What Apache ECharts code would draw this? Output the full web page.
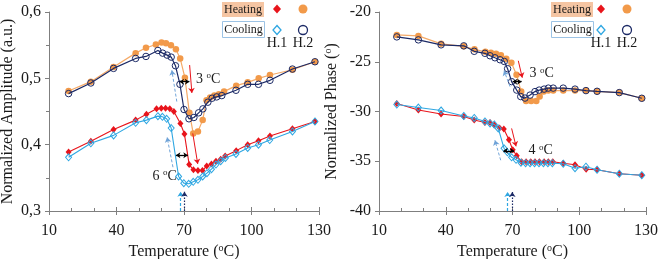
<!DOCTYPE html>
<html><head><meta charset="utf-8">
<script src="https://cdn.jsdelivr.net/npm/echarts@6/dist/echarts.min.js"></script>
<style>html,body{margin:0;padding:0;background:#fff}#c{width:658px;height:259px}</style>
</head><body><div id="c"></div>
<script>
// ---- Data (temperature in °C) ----
const xTicks = [10, 40, 70, 100, 130];
const ampTicks = [0.3, 0.4, 0.5, 0.6];
const phaseTicks = [-40, -35, -30, -25, -20];

// Amplitude – Heating H.2 (orange filled circles)
const ampHeatH2T = [18.7, 28.6, 38.7, 48.5, 53.1, 57.5, 60.0, 62.0, 64.2, 66.4, 68.3, 70.4, 72.4, 74.1, 76.2, 78.3, 80.0, 81.6, 83.5, 85.5, 87.8, 93.2, 98.3, 103.2, 108.2, 118.2, 128.2];
const ampHeatH2  = [0.481, 0.495, 0.517, 0.538, 0.546, 0.551, 0.554, 0.553, 0.550, 0.544, 0.530, 0.501, 0.448, 0.417, 0.420, 0.437, 0.467, 0.471, 0.474, 0.476, 0.480, 0.489, 0.494, 0.500, 0.505, 0.513, 0.525];
// Amplitude – Cooling H.2 (navy open circles)
const ampCoolH2T = [18.7, 28.6, 38.7, 48.5, 53.1, 58.4, 60.5, 62.5, 64.3, 66.2, 68.2, 70.0, 72.2, 74.4, 76.5, 78.4, 80.6, 82.5, 84.5, 86.8, 93.1, 98.3, 103.1, 108.2, 118.2, 128.2];
const ampCoolH2  = [0.477, 0.493, 0.515, 0.530, 0.533, 0.542, 0.538, 0.535, 0.532, 0.519, 0.491, 0.453, 0.439, 0.441, 0.448, 0.454, 0.464, 0.470, 0.472, 0.474, 0.482, 0.491, 0.491, 0.497, 0.514, 0.525];
// Amplitude – Heating H.1 (red diamonds)
const ampHeatH1T = [18.7, 28.6, 38.7, 48.5, 53.3, 57.8, 59.9, 61.8, 63.7, 65.5, 68.4, 70.2, 72.3, 74.2, 76.2, 78.2, 80.1, 82.2, 84.2, 86.3, 88.3, 93.2, 98.3, 103.1, 108.2, 118.2, 128.2];
const ampHeatH1  = [0.389, 0.405, 0.423, 0.437, 0.446, 0.454, 0.455, 0.455, 0.454, 0.450, 0.432, 0.416, 0.370, 0.362, 0.361, 0.361, 0.368, 0.371, 0.375, 0.378, 0.383, 0.391, 0.400, 0.406, 0.413, 0.424, 0.435];
// Amplitude – Cooling H.1 (cyan open diamonds)
const ampCoolH1T = [18.7, 28.6, 38.7, 48.5, 53.3, 58.4, 60.4, 62.3, 64.3, 67.6, 69.9, 72.1, 74.1, 76.2, 78.3, 80.2, 82.2, 84.2, 86.3, 88.4, 93.1, 98.3, 103.1, 108.1, 118.2, 128.2];
const ampCoolH1  = [0.381, 0.402, 0.414, 0.433, 0.437, 0.443, 0.442, 0.439, 0.425, 0.352, 0.342, 0.341, 0.344, 0.347, 0.352, 0.357, 0.363, 0.370, 0.375, 0.380, 0.386, 0.395, 0.400, 0.407, 0.420, 0.435];

// Phase – Heating H.2
const phHeatH2T = [18, 27.7, 37.9, 48.1, 52.9, 57.8, 60.3, 62.6, 64.8, 67.2, 69.5, 71.8, 73.9, 76.1, 78.4, 80.7, 82.2, 84.0, 86.1, 88.3, 92.8, 98.1, 103.1, 108.1, 118.0, 128.1];
const phHeatH2  = [-22.3, -22.4, -23.2, -23.45, -23.75, -24.0, -24.1, -24.2, -24.35, -24.7, -25.1, -26.3, -28.0, -28.95, -28.95, -28.95, -28.5, -28.0, -27.9, -27.9, -27.9, -27.9, -27.9, -27.97, -28.1, -28.67];
// Phase – Cooling H.2
const phCoolH2T = [18, 27.7, 37.9, 48.1, 52.8, 57.6, 59.9, 62.1, 64.4, 66.3, 67.8, 69.6, 71.9, 73.7, 75.6, 77.9, 80.1, 82.0, 84.2, 86.1, 88.3, 92.8, 98.1, 103.0, 108.0, 118.0, 128.1];
const phCoolH2  = [-22.5, -22.8, -23.3, -23.4, -23.95, -24.15, -24.4, -24.6, -24.8, -24.97, -25.7, -27.0, -27.85, -28.5, -28.65, -28.35, -28.0, -27.85, -27.75, -27.65, -27.65, -27.65, -27.75, -27.9, -27.97, -28.1, -28.67];
// Phase – Heating H.1
const phHeatH1T = [18, 27.7, 37.9, 48.1, 52.8, 57.6, 59.9, 61.8, 64.2, 66.1, 68.4, 70.1, 71.9, 74.1, 76.1, 78.2, 80.1, 82.1, 84.2, 86.1, 88.1, 92.8, 98.1, 103.1, 108.0, 118.0, 128.1];
const phHeatH1  = [-29.2, -29.85, -30.25, -30.5, -30.85, -31.1, -31.1, -31.35, -31.65, -31.75, -32.85, -33.85, -34.45, -35.05, -35.05, -35.05, -35.05, -35.05, -35.05, -35.05, -35.05, -35.2, -35.35, -35.8, -35.85, -36.25, -36.4];
// Phase – Cooling H.1
const phCoolH1T = [18, 27.7, 37.9, 48.1, 52.8, 57.6, 59.9, 61.8, 63.6, 66.2, 67.7, 69.6, 71.6, 73.8, 75.9, 77.9, 79.9, 81.9, 83.9, 85.9, 87.9, 92.8, 98.1, 103.0, 108.0, 118.0, 128.1];
const phCoolH1  = [-29.3, -29.6, -29.9, -30.45, -30.65, -31.0, -31.2, -31.3, -31.7, -33.7, -34.1, -34.6, -34.85, -35.15, -35.2, -35.2, -35.2, -35.2, -35.2, -35.2, -35.2, -35.25, -35.7, -35.55, -35.85, -36.25, -36.4];

// Annotation positions (data coordinates)
const ampArrows = {
  redUp:  [[72.5, 0.520], [73.5, 0.478]],
  blueUp: [[66.8, 0.465], [64.6, 0.512]],
  dblUp:  [[68.0, 0.495], [72.4, 0.495]],
  redLo:  [[73.9, 0.417], [76.1, 0.371]],
  blueLo: [[65.1, 0.366], [62.5, 0.411]],
  dblLo:  [[66.4, 0.384], [71.7, 0.384]],
  cyanV:  [[68.5, 0.300], [68.5, 0.329]],
  navyV:  [[70.2, 0.300], [70.2, 0.329]]
};
const ampTexts = [{t: '3', at: [75.3, 0.499], pos: 'right'}, {t: '6', at: [66.8, 0.353], pos: 'left'}];
const phArrows = {
  redUp:  [[72.6, -24.9], [74.4, -26.6]],
  blueUp: [[68.9, -27.5], [66.2, -25.9]],
  dblUp:  [[70.1, -27.0], [74.1, -27.0]],
  redLo:  [[69.6, -31.7], [71.6, -33.5]],
  blueLo: [[64.7, -34.9], [62.1, -32.9]],
  dblLo:  [[65.9, -33.95], [70.8, -33.95]],
  cyanV:  [[67.8, -40], [67.8, -38.1]],
  navyV:  [[69.9, -40], [69.9, -38.1]]
};
const phTexts = [{t: '3', at: [77.6, -26.2], pos: 'right'}, {t: '4', at: [77.2, -33.95], pos: 'right'}];

// ---- Styles ----
const FONT = 'Liberation Serif';
const C = {orange: '#F29A4A', orangeLine: '#F5AA68', navy: '#1C2A66', red: '#E8141B', cyan: '#2FA7E2', dash: '#6FA3D8', axis: '#7f7f7f', text: '#1a1a1a', peach: '#F5C5A3', coolBorder: '#9CC3E5'};
const zip = (t, v) => t.map((x, i) => [x, v[i]]);

function line(name, idx, t, v, kind, z) {
  const s = {name, type: 'line', xAxisIndex: idx, yAxisIndex: idx, data: zip(t, v), z,
    animation: false, silent: true, emphasis: {disabled: true}};
  if (kind === 'orange') Object.assign(s, {symbol: 'circle', symbolSize: 6.5,
    itemStyle: {color: C.orange}, lineStyle: {color: C.orangeLine, width: 1.2}});
  if (kind === 'navy') Object.assign(s, {symbol: 'circle', symbolSize: 6.5,
    itemStyle: {color: 'rgba(255,255,255,0)', borderColor: C.navy, borderWidth: 1}, lineStyle: {color: C.navy, width: 1.2}});
  if (kind === 'red') Object.assign(s, {symbol: 'diamond', symbolSize: [6, 7],
    itemStyle: {color: C.red}, lineStyle: {color: C.red, width: 1.1}});
  if (kind === 'cyan') Object.assign(s, {symbol: 'diamond', symbolSize: [6, 7],
    itemStyle: {color: 'rgba(255,255,255,0)', borderColor: C.cyan, borderWidth: 1}, lineStyle: {color: C.cyan, width: 1.1}});
  return s;
}

function arrowsSeries(idx, A, T) {
  const seg = (p, style, s0, s1, size) => [
    {coord: p[0], symbol: s0, symbolSize: size, lineStyle: style},
    {coord: p[1], symbol: s1, symbolSize: size}
  ];
  return {
    type: 'line', xAxisIndex: idx, yAxisIndex: idx, data: [], z: 10, silent: true, animation: false,
    markLine: {
      silent: true, animation: false, label: {show: false}, emphasis: {disabled: true},
      data: [
        seg(A.redUp, {color: C.red, width: 1, type: 'solid'}, 'none', 'arrow', 5),
        seg(A.redLo, {color: C.red, width: 1, type: 'solid'}, 'none', 'arrow', 5),
        seg(A.blueUp, {color: C.dash, width: 1, type: [3, 2]}, 'none', 'arrow', 5),
        seg(A.blueLo, {color: C.dash, width: 1, type: [3, 2]}, 'none', 'arrow', 5),
        seg(A.dblUp, {color: '#000', width: 1.3, type: 'solid'}, 'arrow', 'arrow', 4.5),
        seg(A.dblLo, {color: '#000', width: 1.3, type: 'solid'}, 'arrow', 'arrow', 4.5),
        seg(A.cyanV, {color: C.cyan, width: 1.2, type: [3, 2]}, 'none', 'arrow', 5),
        seg(A.navyV, {color: C.navy, width: 1.2, type: [1.5, 1.5]}, 'none', 'arrow', 5)
      ]
    },
    markPoint: {
      silent: true, animation: false,
      data: T.map(o => ({coord: o.at, symbol: 'rect', symbolSize: 0,
        label: {show: true, position: o.pos, distance: 0, formatter: o.t + ' {s|o}C',
          fontFamily: FONT, fontSize: 14, color: C.text,
          rich: {s: {fontFamily: FONT, fontSize: 9, color: C.text, padding: [0, 0, 7, 0]}}}}))
    }
  };
}

const axisCommon = {
  nameMoveOverlap: false,
  axisLine: {lineStyle: {color: C.axis, width: 1}},
  axisTick: {lineStyle: {color: C.axis}, length: 4},
  splitLine: {show: false},
  axisLabel: {fontFamily: FONT, fontSize: 16, color: C.text},
  nameTextStyle: {fontFamily: FONT, fontSize: 16, color: C.text,
    rich: {s: {fontFamily: FONT, fontSize: 10, color: C.text, padding: [0, 0, 8, 0]}}}
};
function xAxis(idx) {
  return Object.assign({}, axisCommon, {type: 'value', gridIndex: idx, min: xTicks[0], max: xTicks[xTicks.length - 1],
    interval: 30, name: 'Temperature ({s|o}C)', nameLocation: 'middle', nameGap: 32,
    axisLabel: Object.assign({}, axisCommon.axisLabel, {margin: 12})});
}
// inner tick overlay (minor ticks point inward, major ticks cross the axis)
function xAxisInner(idx) {
  return {type: 'value', gridIndex: idx, min: xTicks[0], max: xTicks[xTicks.length - 1], interval: 30,
    position: 'bottom', axisLine: {show: false}, axisLabel: {show: false}, splitLine: {show: false},
    axisTick: {show: true, inside: true, length: 4, lineStyle: {color: C.axis}},
    minorTick: {show: true, splitNumber: 3, length: 3, lineStyle: {color: C.axis}}};
}

const option = {
  animation: false,
  grid: [
    {left: 49, top: 12, width: 270, height: 199, containLabel: false, outerBoundsMode: 'none'},
    {left: 379, top: 12, width: 267, height: 199, containLabel: false, outerBoundsMode: 'none'}
  ],
  xAxis: [xAxis(0), xAxis(1), xAxisInner(0), xAxisInner(1)],
  yAxis: [
    Object.assign({}, axisCommon, {type: 'value', gridIndex: 0, min: ampTicks[0], max: ampTicks[ampTicks.length - 1], interval: 0.1,
      name: 'Normalized Amplitude (a.u.)', nameLocation: 'middle', nameGap: 33,
      axisLabel: Object.assign({}, axisCommon.axisLabel, {margin: 8, formatter: v => v.toFixed(1).replace('.', ',')}),
      minorTick: {show: true, splitNumber: 2, length: 3, lineStyle: {color: C.axis}}}),
    Object.assign({}, axisCommon, {type: 'value', gridIndex: 1, min: phaseTicks[0], max: phaseTicks[phaseTicks.length - 1], interval: 5,
      name: 'Normalized Phase ({s|o})', nameLocation: 'middle', nameGap: 38,
      axisLabel: Object.assign({}, axisCommon.axisLabel, {margin: 8})})
  ],
  series: [
    line('Heating H.2', 0, ampHeatH2T, ampHeatH2, 'orange', 2),
    line('Cooling H.2', 0, ampCoolH2T, ampCoolH2, 'navy', 3),
    line('Heating H.1', 0, ampHeatH1T, ampHeatH1, 'red', 2),
    line('Cooling H.1', 0, ampCoolH1T, ampCoolH1, 'cyan', 3),
    line('Heating H.2', 1, phHeatH2T, phHeatH2, 'orange', 2),
    line('Cooling H.2', 1, phCoolH2T, phCoolH2, 'navy', 3),
    line('Heating H.1', 1, phHeatH1T, phHeatH1, 'red', 2),
    line('Cooling H.1', 1, phCoolH1T, phCoolH1, 'cyan', 3),
    arrowsSeries(0, ampArrows, ampTexts),
    arrowsSeries(1, phArrows, phTexts)
  ],
  graphic: []
};

// Custom legends
function legend(x0, mx1, mx2) {
  const dia = (cx, cy, w, h) => [[cx, cy - h], [cx + w, cy], [cx, cy + h], [cx - w, cy]];
  return [
    {type: 'rect', shape: {x: x0, y: 2, width: 42, height: 15}, style: {fill: C.peach}, silent: true},
    {type: 'text', x: x0 + 21, y: 9.5, style: {text: 'Heating', font: '12px "Liberation Serif"', fill: C.text, align: 'center', verticalAlign: 'middle'}, silent: true},
    {type: 'rect', shape: {x: x0 + 0.5, y: 21.5, width: 42, height: 16}, style: {fill: '#fff', stroke: C.coolBorder, lineWidth: 1}, silent: true},
    {type: 'text', x: x0 + 21.5, y: 29.5, style: {text: 'Cooling', font: '12px "Liberation Serif"', fill: C.text, align: 'center', verticalAlign: 'middle'}, silent: true},
    {type: 'polygon', shape: {points: dia(mx1, 9, 4, 4.5)}, style: {fill: C.red}, silent: true},
    {type: 'circle', shape: {cx: mx2, cy: 9, r: 4.5}, style: {fill: C.orange}, silent: true},
    {type: 'polygon', shape: {points: dia(mx1, 30, 4, 4.5)}, style: {fill: 'none', stroke: C.cyan, lineWidth: 1.3}, silent: true},
    {type: 'circle', shape: {cx: mx2, cy: 30, r: 4.5}, style: {fill: 'none', stroke: C.navy, lineWidth: 1.3}, silent: true},
    {type: 'text', x: mx1, y: 43.5, style: {text: 'H.1', font: '14px "Liberation Serif"', fill: C.text, align: 'center', verticalAlign: 'middle'}, silent: true},
    {type: 'text', x: mx2, y: 43.5, style: {text: 'H.2', font: '14px "Liberation Serif"', fill: C.text, align: 'center', verticalAlign: 'middle'}, silent: true}
  ];
}
option.graphic = legend(222, 277, 303).concat(legend(551, 601, 627));

const chart = echarts.init(document.getElementById('c'), null, {renderer: 'canvas'});
chart.setOption(option);
</script>
</body></html>
